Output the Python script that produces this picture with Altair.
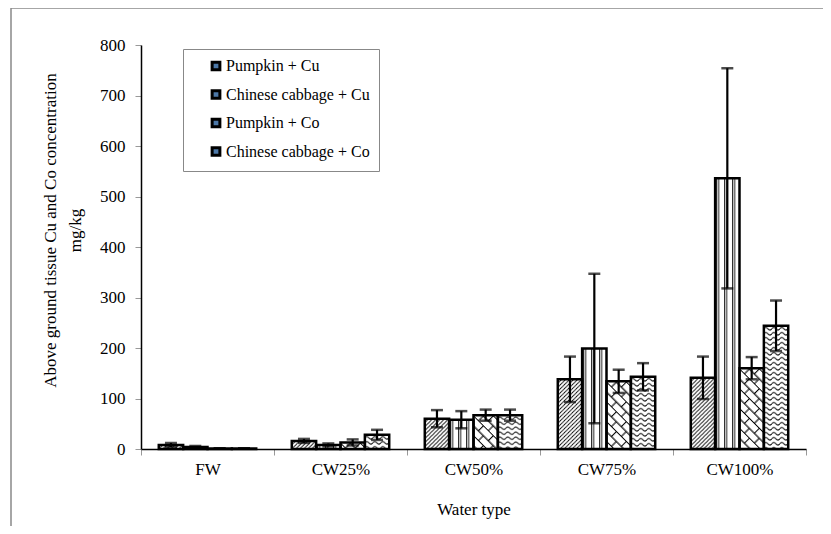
import base64
import altair as alt
import pandas as pd

# ---- data ----
categories = ["FW", "CW25%", "CW50%", "CW75%", "CW100%"]
series = ["Pumpkin + Cu", "Chinese cabbage + Cu", "Pumpkin + Co", "Chinese cabbage + Co"]

pumpkin_cu = [8, 16, 60, 138, 141]
pumpkin_cu_err = [4, 4, 17, 45, 42]
cabbage_cu = [4, 8, 58, 199, 536]
cabbage_cu_err = [2, 3, 17, 148, 218]
pumpkin_co = [1, 13, 67, 134, 160]
pumpkin_co_err = [0.5, 6, 11, 23, 22]
cabbage_co = [1, 28, 67, 143, 244]
cabbage_co_err = [0.5, 10, 11, 27, 50]

y_ticks = [0, 100, 200, 300, 400, 500, 600, 700, 800]

# ---- fill patterns (styling only) ----
def pattern_uri(w, h, inner, transform=""):
    tr = f' patternTransform="{transform}"' if transform else ""
    svg = (
        '<svg xmlns="http://www.w3.org/2000/svg" width="100%" height="100%">'
        f'<defs><pattern id="p" patternUnits="userSpaceOnUse" width="{w}" height="{h}"{tr}>'
        f'{inner}</pattern></defs>'
        '<rect x="0" y="0" width="100%" height="100%" fill="white"/>'
        '<rect x="0" y="0" width="100%" height="100%" fill="url(#p)"/></svg>'
    )
    return "data:image/svg+xml;base64," + base64.b64encode(svg.encode()).decode()

patterns = [
    pattern_uri(4, 4, '<path d="M-1,1 l2,-2 M0,4 l4,-4 M3,5 l2,-2" stroke="black" stroke-width="0.9"/>'),
    pattern_uri(8, 8, '<path d="M1.5,0 V8 M3.5,0 V8" stroke="black" stroke-width="0.9"/>'),
    pattern_uri(14, 14, '<path d="M0,0.5 H14 M0,7.5 H14 M0.5,0 V7.5 M7.5,7.5 V14" stroke="black" stroke-width="1.1" fill="none"/>',
                "rotate(45)"),
    pattern_uri(8, 5, '<path d="M0,3 Q2,0.5 4,3 T8,3" stroke="black" stroke-width="1" fill="none"/>'),
]

values = [pumpkin_cu, cabbage_cu, pumpkin_co, cabbage_co]
errors = [pumpkin_cu_err, cabbage_cu_err, pumpkin_co_err, cabbage_co_err]

rows = []
for s, vals, errs, img in zip(series, values, errors, patterns):
    for c, v, e in zip(categories, vals, errs):
        rows.append({"category": c, "series": s, "value": v,
                     "lo": max(v - e, 0), "hi": v + e, "img": img})
df = pd.DataFrame(rows)

FONT = "Liberation Serif"

x_enc = alt.X("category:N", sort=categories,
              scale=alt.Scale(paddingInner=0, paddingOuter=0),
              axis=alt.Axis(title="Water type", labelAngle=0, tickBand="extent",
                            domainColor="black", domainWidth=1.5,
                            tickColor="#999999", tickSize=6, tickWidth=1,
                            labelFont=FONT, labelFontSize=17, labelColor="black",
                            labelPadding=6, titleFont=FONT, titleFontSize=17,
                            titleFontWeight="normal", titleColor="black",
                            titlePadding=24))
xoff_enc = alt.XOffset("series:N", sort=series,
                       scale=alt.Scale(paddingInner=0, paddingOuter=0.73))
y_enc = alt.Y("value:Q",
              scale=alt.Scale(domain=[0, 800], nice=False),
              axis=alt.Axis(values=y_ticks, grid=False,
                            title=["Above ground tissue Cu and Co concentration", "mg/kg"],
                            domainColor="black", domainWidth=1.5,
                            tickColor="#999999", tickSize=6, tickWidth=1,
                            labelFont=FONT, labelFontSize=17, labelColor="black",
                            labelPadding=10, titleFont=FONT, titleFontSize=17,
                            titleFontWeight="normal", titleColor="black",
                            titleAngle=-90, titleAlign="center", titleBaseline="middle",
                            titleX=-91, titleY=185, titleLineHeight=25))

base = alt.Chart(df)

fills = base.mark_image(aspect=False).encode(
    x=x_enc, xOffset=xoff_enc, y=y_enc, y2=alt.datum(0), url="img:N"
)

outlines = base.mark_bar(fillOpacity=0, strokeWidth=2.5).encode(
    x=x_enc, xOffset=xoff_enc, y=y_enc, y2=alt.datum(0),
    stroke=alt.Stroke("series:N", sort=series,
                      scale=alt.Scale(domain=series, range=["black"] * 4),
                      legend=alt.Legend(title=None, orient="none", legendX=42, legendY=4,
                                        symbolType="square", symbolSize=60,
                                        symbolStrokeWidth=3, symbolFillColor="white",
                                        symbolOffset=16, labelOffset=2,
                                        labelFont=FONT, labelFontSize=16,
                                        labelColor="black", rowPadding=8.5,
                                        labelExpr="datum.label + '\u00a0\u00a0\u00a0\u00a0\u00a0\u00a0'",
                                        padding=9, strokeColor="#888888",
                                        fillColor="white")),
)

err_rule = base.mark_rule(color="black", strokeWidth=2.2).encode(
    x=x_enc, xOffset=xoff_enc, y="lo:Q", y2="hi:Q"
)
cap_hi = base.mark_tick(color="black", size=12, thickness=2.5).encode(
    x=x_enc, xOffset=xoff_enc, y="hi:Q"
)
cap_lo = base.mark_tick(color="black", size=12, thickness=2.5).encode(
    x=x_enc, xOffset=xoff_enc, y="lo:Q"
)

frame_df = pd.DataFrame({"k": [0]})
frame_top = alt.Chart(frame_df).mark_rule(color="#888888", strokeWidth=1.5).encode(
    x=alt.value(-130), x2=alt.value(700), y=alt.value(-37)
)
frame_left = alt.Chart(frame_df).mark_rule(color="#888888", strokeWidth=1.5).encode(
    x=alt.value(-130), y=alt.value(-37), y2=alt.value(500)
)

chart = alt.layer(fills, outlines, err_rule, cap_hi, cap_lo, frame_top, frame_left).properties(
    width=665, height=404,
    autosize=alt.AutoSizeParams(type="none"),
    padding={"left": 133, "top": 37, "right": 17, "bottom": 77},
    background="white",
).configure(font=FONT).configure_view(stroke=None)

chart.save("out.html", embed_options={"renderer": "svg", "actions": False})
